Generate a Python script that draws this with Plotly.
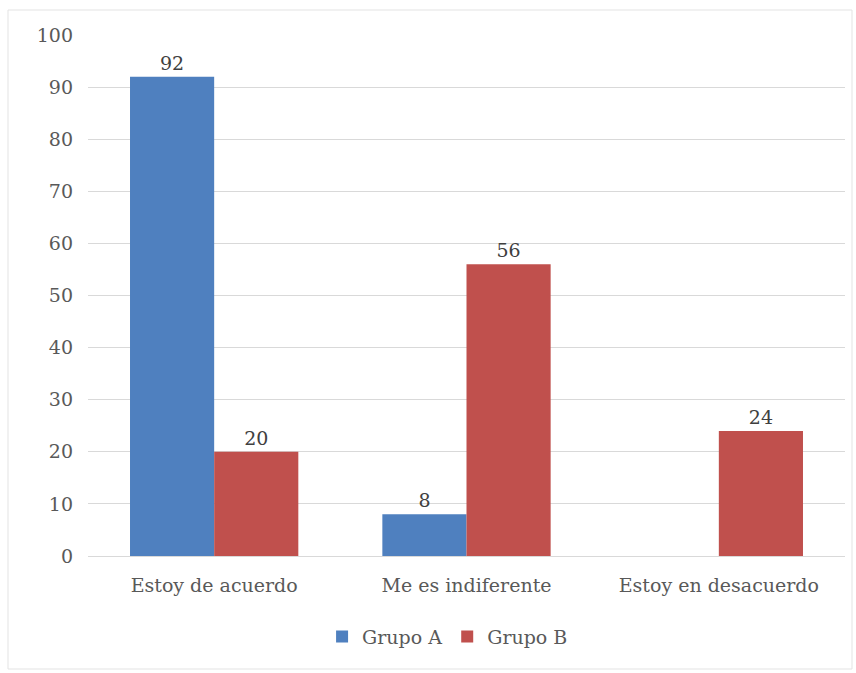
import plotly.graph_objects as go

# Survey responses per group (percent)
categorias = ["Estoy de acuerdo", "Me es indiferente", "Estoy en desacuerdo"]
grupo_a = [92, 8, None]
grupo_b = [20, 56, 24]
ticks_y = [0, 10, 20, 30, 40, 50, 60, 70, 80, 90, 100]

FONT = "DejaVu Serif"
GRIS = "#595959"
SIZE = 19


def etiquetas(vals):
    return ["" if v is None else str(v) for v in vals]


fig = go.Figure()
fig.add_trace(go.Bar(
    name="Grupo A", x=categorias, y=grupo_a,
    marker=dict(color="#4f80bf", line=dict(width=0)),
    text=etiquetas(grupo_a), textposition="outside",
    textfont=dict(family=FONT, size=SIZE, color="#404040"),
    cliponaxis=False,
))
fig.add_trace(go.Bar(
    name="Grupo B", x=categorias, y=grupo_b,
    marker=dict(color="#c0504d", line=dict(width=0)),
    text=etiquetas(grupo_b), textposition="outside",
    textfont=dict(family=FONT, size=SIZE, color="#404040"),
    cliponaxis=False,
))

L, R, T, B = 88, 11, 35, 117
W, H = 856, 673
pw, ph = W - L - R, H - T - B

fig.update_layout(
    width=W, height=H,
    margin=dict(l=L, r=R, t=T, b=B),
    paper_bgcolor="white", plot_bgcolor="white",
    barmode="group", bargap=0.333, bargroupgap=0,
    font=dict(family=FONT, size=SIZE, color=GRIS),
    showlegend=True,
    legend=dict(orientation="h", x=0.475, xanchor="center", y=-0.155, yanchor="middle",
                font=dict(family=FONT, size=SIZE, color=GRIS), itemwidth=30,
                traceorder="normal"),
    xaxis=dict(showgrid=False, showline=False, ticks="", ticklabelstandoff=16,
               tickfont=dict(size=SIZE, color=GRIS)),
    yaxis=dict(range=[0, 100], tickvals=ticks_y, showgrid=True, gridcolor="#d9d9d9",
               gridwidth=1, zeroline=True, zerolinecolor="#d9d9d9", zerolinewidth=1,
               showline=False, ticks="", ticklabelstandoff=14,
               tickfont=dict(size=SIZE, color=GRIS)),
    shapes=[dict(
        type="rect", xref="paper", yref="paper",
        x0=(8 - L) / pw, x1=(852 - L) / pw,
        y0=(H - B - 669) / ph, y1=(H - B - 10) / ph,
        line=dict(color="#e3e3e3", width=1), fillcolor="rgba(0,0,0,0)", layer="below",
    )],
)

fig.write_html("out.html")
